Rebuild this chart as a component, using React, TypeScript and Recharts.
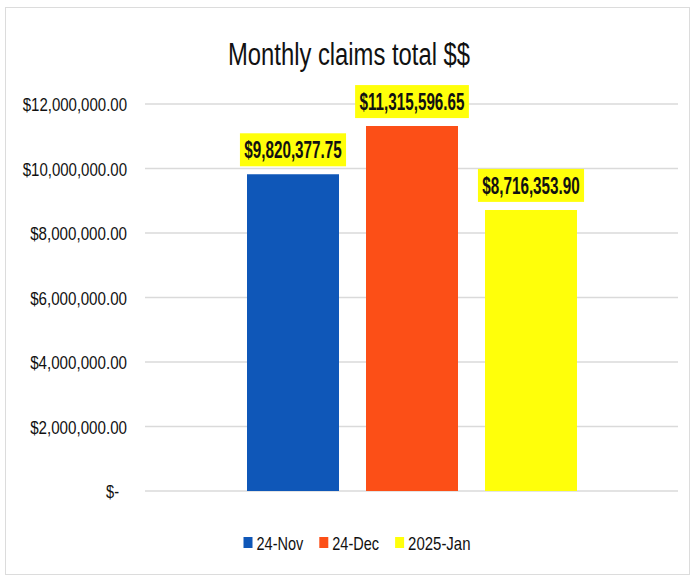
import { Bar, BarChart, CartesianGrid, LabelList, XAxis, YAxis } from 'recharts';

const categories = [''];
const seriesNames = ['24-Nov', '24-Dec', '2025-Jan'];
const seriesColors = ['#0f57b8', '#fc4f17', '#ffff0a'];
const seriesValues = [[9820377.75], [11315596.65], [8716353.9]];
const yTicks = [0, 2000000, 4000000, 6000000, 8000000, 10000000, 12000000];
const title = 'Monthly claims total $$';

const data = categories.map((name, i) => {
  const row: Record<string, string | number> = { name };
  seriesNames.forEach((s, j) => {
    row[s] = seriesValues[j][i];
  });
  return row;
});

const FONT = '"Liberation Sans", Arial, sans-serif';

const money = (v: number) =>
  '$' + v.toLocaleString('en-US', { minimumFractionDigits: 2, maximumFractionDigits: 2 });

const tickFormat = (v: number) => (v === 0 ? '$-' : money(v));

// narrow text, Calibri-like, by squeezing the glyphs
const Narrow = ({ x, y, text, size, perChar, anchor = 'start', bold = false }: any) => (
  <text
    x={x}
    y={y}
    textAnchor={anchor}
    fontFamily={FONT}
    fontSize={size}
    fontWeight={bold ? 'bold' : 'normal'}
    fill="#111"
    textLength={text.length * perChar}
    lengthAdjust="spacingAndGlyphs"
  >
    {text}
  </text>
);

const YTick = (props: any) => {
  const { x, y, payload } = props;
  const text = tickFormat(payload.value);
  return (
    <Narrow
      x={payload.value === 0 ? x - 8 : x}
      y={y + 7}
      text={text}
      size={18}
      perChar={payload.value === 0 ? 6.5 : 7.45}
      anchor="end"
    />
  );
};

const ValueLabel = (props: any) => {
  const { x, y, width, value } = props;
  const text = money(Number(value));
  const boxW = text.length * 7.7 + 6;
  const boxH = 33;
  const cx = x + width / 2;
  const top = y - 8 - boxH;
  return (
    <g>
      <rect x={cx - boxW / 2} y={top} width={boxW} height={boxH} fill="#ffff0a" />
      <Narrow x={cx} y={top + 25} text={text} size={23} perChar={7.5} anchor="middle" bold />
    </g>
  );
};

const LegendBar = () => {
  const perChar = 7.8;
  const widths = seriesNames.map((s) => 13 + s.length * perChar);
  const gap = 16;
  const total = widths.reduce((a, b) => a + b, 0) + gap * (widths.length - 1);
  let cur = 357 - total / 2;
  return (
    <g>
      {seriesNames.map((s, j) => {
        const x0 = cur;
        cur += widths[j] + gap;
        return (
          <g key={s}>
            <rect x={x0} y={537} width={9} height={11} fill={seriesColors[j]} />
            <Narrow x={x0 + 13} y={550} text={s} size={19} perChar={perChar} />
          </g>
        );
      })}
    </g>
  );
};

const App = () => (
  <div
    style={{
      position: 'absolute',
      left: 0,
      top: 0,
      width: 695,
      height: 579,
      background: '#fff',
    }}
  >
    <div
      style={{
        position: 'absolute',
        left: 5,
        top: 7,
        width: 685,
        height: 568,
        border: '1px solid #dcdcdc',
        boxSizing: 'border-box',
      }}
    />
    <BarChart
      width={695}
      height={579}
      data={data}
      margin={{ top: 104, right: 17, bottom: 88, left: 0 }}
      barGap={27}
      barSize={92}
      style={{ position: 'absolute', left: 0, top: 0 }}
    >
      <CartesianGrid vertical={false} stroke="#dadada" strokeWidth={1.3} />
      <XAxis dataKey="name" tick={false} tickLine={false} axisLine={{ stroke: '#d6d6d6' }} height={0} />
      <YAxis
        width={145}
        domain={[0, 12000000]}
        ticks={yTicks}
        axisLine={false}
        tickLine={false}
        tickSize={0}
        tickMargin={18}
        tick={YTick}
      />
      {seriesNames.map((s, j) => (
        <Bar key={s} dataKey={s} fill={seriesColors[j]} isAnimationActive={false}>
          <LabelList dataKey={s} content={ValueLabel} />
        </Bar>
      ))}
    </BarChart>
    <svg width={695} height={579} style={{ position: 'absolute', left: 0, top: 0, pointerEvents: 'none' }}>
      <Narrow x={349} y={65} text={title} size={31} perChar={242 / title.length} anchor="middle" />
      <LegendBar />
    </svg>
  </div>
);

export default App;
